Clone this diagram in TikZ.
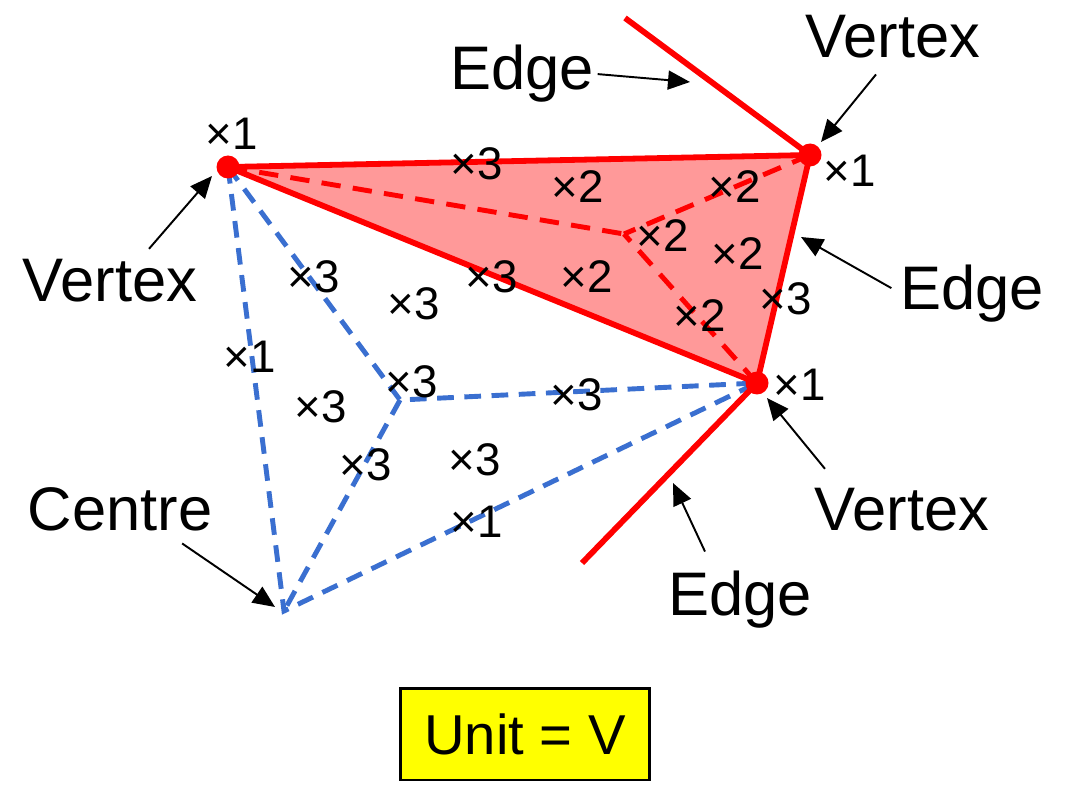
\documentclass[tikz,border=0pt]{standalone}
\usepackage{fontspec}
\setmainfont{Liberation Sans}
\usetikzlibrary{arrows.meta,calc}
\definecolor{edgered}{HTML}{FF0000}
\definecolor{facered}{HTML}{FF9999}
\definecolor{dualblue}{HTML}{3A6FD0}
\definecolor{unitbg}{HTML}{FFFF00}
\tikzset{
  vdot/.style={circle,fill=edgered,inner sep=0pt,minimum size=0.46cm},
  redline/.style={edgered,line width=3.3pt},
  reddash/.style={edgered,line width=2.8pt,dash pattern=on 11pt off 7pt},
  bluedash/.style={dualblue,line width=2.8pt,dash pattern=on 9.5pt off 6pt},
  bigtxt/.style={font=\fontsize{35}{42}\selectfont,inner sep=2pt,anchor=base},
  mult/.style={font=\fontsize{26}{30}\selectfont,inner sep=0pt,anchor=base},
  pointer/.style={-{Triangle[length=4.4mm,width=3.8mm]},line width=1.1pt,black},
  unitbox/.style={draw=black,fill=unitbg,line width=1.7pt,minimum width=5cm,
                  minimum height=1.84cm,font=\fontsize{32}{38}\selectfont},
}

\begin{document}
\begin{tikzpicture}[x=0.02cm,y=-0.02cm]
  \useasboundingbox (0,0) rectangle (1068,807);
  % corner points of the shaded face
  \coordinate (A) at (228,167);
  \coordinate (B) at (810,155);
  \coordinate (C) at (757,383);
  % interior junctions
  \coordinate (P) at (624,234);
  \coordinate (Q) at (400,400);
  \coordinate (D) at (284,611);
  % far ends of the two neighbouring edges
  \coordinate (eT) at (625,18);
  \coordinate (eC) at (582,563);

  % shaded face
  \fill[facered] (A) -- (B) -- (C) -- cycle;
  % blue dashed cell
  \draw[bluedash] (A) -- (Q) -- (C);
  \draw[bluedash] (A) -- (D) -- (C);
  \draw[bluedash] (Q) -- (D);
  % red dashed spokes
  \draw[reddash] (A) -- (P);
  \draw[reddash] (B) -- (P);
  \draw[reddash] (C) -- (P);
  % solid edges
  \draw[redline,line join=round] (A) -- (B) -- (C) -- cycle;
  \draw[redline] (eT) -- (B);
  \draw[redline] (eC) -- (C);
  \node[vdot] (dA) at (A) {};
  \node[vdot] (dB) at (B) {};
  \node[vdot] (dC) at (C) {};

  % multiplicities
  \foreach \mx/\my/\mn [count=\k] in {%
    232/150/1, 477/180/3, 578/203/2, 492/293/3, 587/293/2,
    314/293/3, 414/320/3, 250/373/1, 412/398/3, 577/410/3,
    321/422/3, 735/203/2, 663/252/2, 738/270/2, 786/315/3,
    700/332/2, 850/187/1, 800/400/1, 366/480/3, 475/475/3,
    477/537/1}
    \node[mult] (m\k) at (\mx,\my) {×\mn};

  % labels
  \node[bigtxt] (edgeT) at (522,90) {Edge};
  \node[bigtxt] (vtxB) at (893,58) {Vertex};
  \node[bigtxt] (vtxA) at (110,302) {Vertex};
  \node[bigtxt] (edgeR) at (972,310) {Edge};
  \node[bigtxt] (vtxC) at (902,530) {Vertex};
  \node[bigtxt] (edgeC) at (740,615) {Edge};
  \node[bigtxt] (centre) at (120,530) {Centre};

  % arrow tips
  \coordinate (tEdgeT) at (690,82);
  \coordinate (tVtxB) at (821,142);
  \coordinate (tVtxA) at (212,176);
  \coordinate (tEdgeR) at (801,237);
  \coordinate (tVtxC) at (767,398);
  \coordinate (tEdgeC) at (673,483);
  \coordinate (tCentre) at (275,607);

  \draw[pointer] (edgeT.east) -- (tEdgeT);
  \draw[pointer] ($(vtxB.south)+(-17,12)$) -- (tVtxB);
  \draw[pointer] ($(vtxA.north)+(39,-7)$) -- (tVtxA);
  \draw[pointer] ($(edgeR.west)+(-5,-6)$) -- (tEdgeR);
  \draw[pointer] ($(vtxC.north west)+(14,-15)$) -- (tVtxC);
  \draw[pointer] ($(edgeC.north)+(-35,-15)$) -- (tEdgeC);
  \draw[pointer] ($(centre.south east)+(-34,9)$) -- (tCentre);

  % unit
  \node[unitbox] (unit) at (525,734) {Unit = V};
\end{tikzpicture}
\end{document}
